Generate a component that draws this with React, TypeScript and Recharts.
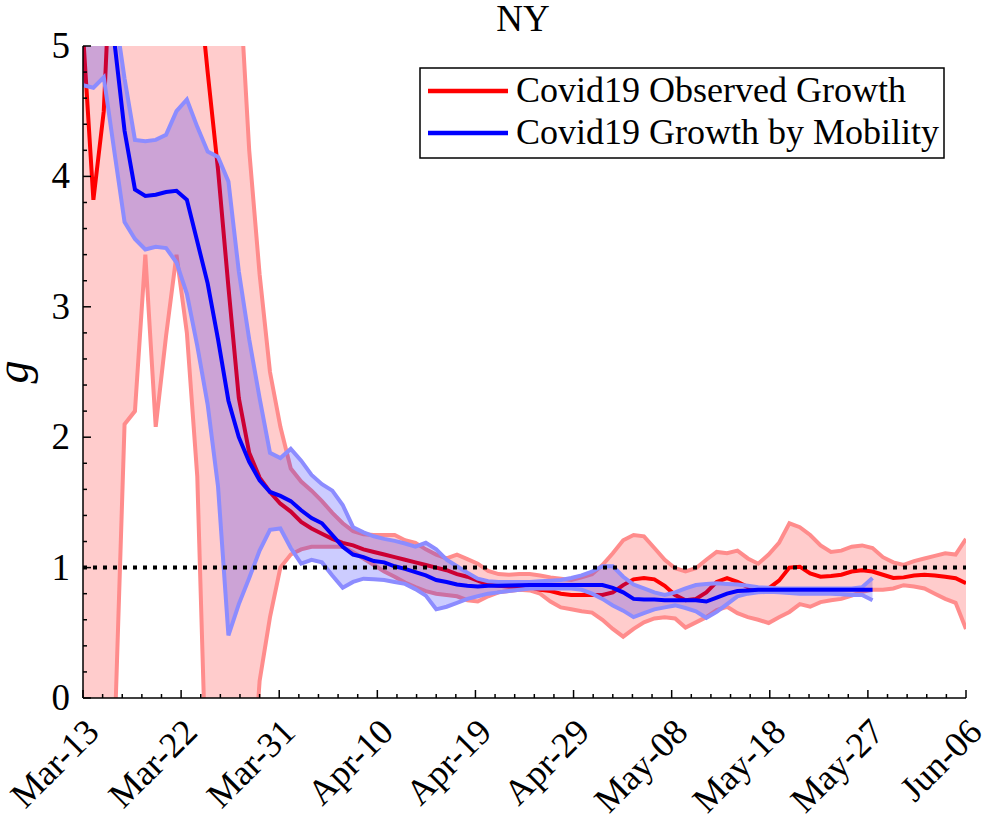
import React from "react";
import {
  ComposedChart,
  Area,
  Line,
  XAxis,
  YAxis,
  ReferenceLine,
} from "recharts";

// ---- tick labels ----
const xTickLabels = [
  "Mar-13", "Mar-22", "Mar-31", "Apr-10", "Apr-19",
  "Apr-29", "May-08", "May-18", "May-27", "Jun-06",
];
const yTickLabels = ["0", "1", "2", "3", "4", "5"];

// ---- observed growth (daily, Mar-13 .. Jun-06) ----
const obsMid = [
  5.1, 3.82, 4.5, 6.3, 7.0, 7.4, 7.6, 7.5, 7.2, 6.8,
  6.3, 5.6, 4.8, 4.05, 3.15, 2.3, 1.88, 1.69, 1.58, 1.49,
  1.43, 1.35, 1.3, 1.26, 1.22, 1.19, 1.17, 1.14, 1.12, 1.1,
  1.08, 1.06, 1.04, 1.02, 1.0, 0.98, 0.95, 0.93, 0.9, 0.87,
  0.86, 0.855, 0.855, 0.85, 0.83, 0.82, 0.8, 0.79, 0.79, 0.79,
  0.79, 0.81, 0.866, 0.91, 0.92, 0.91, 0.86, 0.79, 0.75, 0.76,
  0.81, 0.89, 0.92, 0.89, 0.85, 0.83, 0.84, 0.9, 1.0, 1.007,
  0.955, 0.93, 0.935, 0.945, 0.97, 0.98, 0.97, 0.945, 0.92, 0.925,
  0.94, 0.945, 0.94, 0.93, 0.918, 0.88,
];
const obsHigh = [
  8, 8, 8, 8, 8, 8, 8, 8, 8, 8,
  8, 8, 7.5, 7, 6.4, 5.6, 4.2, 3.25, 2.5, 2.08,
  1.76, 1.66, 1.59, 1.51, 1.42, 1.34, 1.28, 1.255, 1.25, 1.25,
  1.25, 1.21, 1.19, 1.14, 1.1, 1.07, 1.1, 1.065, 1.03, 0.975,
  0.95, 0.945, 0.95, 0.95, 0.94, 0.925, 0.915, 0.905, 0.925, 0.95,
  1.02, 1.11, 1.21, 1.25, 1.24, 1.15, 1.06, 0.995, 0.97, 0.995,
  1.06, 1.12, 1.11, 1.13, 1.07, 1.03, 1.1, 1.19, 1.34, 1.31,
  1.25, 1.17, 1.12, 1.13, 1.16, 1.17, 1.15, 1.08, 1.04, 1.02,
  1.05, 1.07, 1.09, 1.11, 1.1, 1.22,
];
const obsLow = [
  -0.5, -0.6, -0.5, -0.4, 2.1, 2.2, 3.4, 2.08, 2.78, 3.4,
  2.8, 1.7, -1.0, -1.2, -1.2, -1.1, -1.0, 0.13, 0.62, 1.0,
  1.1, 1.14, 1.16, 1.16, 1.16, 1.16, 1.12, 1.07, 1.02, 0.97,
  0.93, 0.885, 0.85, 0.82, 0.8, 0.79, 0.78, 0.75, 0.74, 0.78,
  0.81, 0.82, 0.83, 0.825, 0.8, 0.74, 0.695, 0.68, 0.665, 0.655,
  0.6, 0.53, 0.47, 0.53, 0.58, 0.61, 0.62, 0.61, 0.54, 0.58,
  0.62, 0.675, 0.7, 0.65, 0.62, 0.6, 0.575, 0.62, 0.66, 0.72,
  0.7, 0.735, 0.75, 0.76, 0.785, 0.815, 0.83, 0.83, 0.84, 0.865,
  0.855, 0.84, 0.8, 0.76, 0.73, 0.53,
];

// ---- growth by mobility (daily, Mar-13 .. May-28) ----
const mobMid = [
  6.0, 5.8, 5.5, 5.05, 4.35, 3.9, 3.85, 3.86, 3.88, 3.89,
  3.82, 3.5, 3.18, 2.75, 2.28, 2.0, 1.81, 1.67, 1.58, 1.55,
  1.51, 1.44, 1.38, 1.34, 1.25, 1.16, 1.1, 1.08, 1.05, 1.04,
  1.01, 0.99, 0.965, 0.94, 0.905, 0.89, 0.87, 0.86, 0.855, 0.86,
  0.86, 0.862, 0.865, 0.866, 0.866, 0.866, 0.866, 0.866, 0.866, 0.866,
  0.866, 0.845, 0.81, 0.76, 0.755, 0.755, 0.75, 0.75, 0.75, 0.75,
  0.74, 0.77, 0.8, 0.82, 0.825, 0.83, 0.83, 0.83, 0.83, 0.83,
  0.83, 0.83, 0.83, 0.83, 0.83, 0.83, 0.83,
];
const mobHigh = [
  5.5, 5.6, 5.6, 5.3, 4.75, 4.28, 4.27, 4.28, 4.32, 4.5,
  4.59, 4.38, 4.19, 4.15, 3.96, 3.27, 2.75, 2.3, 1.88, 1.84,
  1.91, 1.82, 1.71, 1.64, 1.59, 1.48, 1.31, 1.27, 1.24, 1.22,
  1.205, 1.185, 1.16, 1.19, 1.14, 1.06, 1.01, 0.96, 0.915, 0.895,
  0.89, 0.89, 0.89, 0.89, 0.895, 0.9, 0.905, 0.92, 0.94, 0.97,
  1.01, 1.01, 0.93, 0.87, 0.84, 0.81, 0.79, 0.81, 0.84, 0.866,
  0.875, 0.88, 0.875, 0.87, 0.86, 0.85, 0.845, 0.84, 0.84, 0.84,
  0.84, 0.84, 0.84, 0.84, 0.84, 0.85, 0.92,
];
const mobLow = [
  4.7, 4.68, 4.76, 4.2, 3.65, 3.52, 3.44, 3.46, 3.45, 3.34,
  3.1, 2.7, 2.25, 1.62, 0.48, 0.72, 0.92, 1.13, 1.29, 1.3,
  1.15, 1.03, 1.06, 1.04, 0.94, 0.845, 0.89, 0.915, 0.91, 0.905,
  0.89, 0.875, 0.835, 0.785, 0.68, 0.7, 0.73, 0.76, 0.78, 0.8,
  0.81, 0.82, 0.83, 0.84, 0.84, 0.84, 0.84, 0.84, 0.83, 0.8,
  0.76, 0.71, 0.67, 0.62, 0.65, 0.68, 0.695, 0.71, 0.69, 0.665,
  0.615, 0.66, 0.72, 0.78, 0.8, 0.81, 0.815, 0.81, 0.805, 0.8,
  0.8, 0.8, 0.8, 0.795, 0.79, 0.79, 0.75,
];

const LAST_DAY = obsMid.length - 1; // 85
const FONT = '"Liberation Serif", "DejaVu Serif", serif';

const data = obsMid.map((v, i) => {
  const hasMob = i < mobMid.length;
  return {
    day: i,
    obs: v,
    obsLo: obsLow[i],
    obsHi: obsHigh[i],
    obsBand: [obsLow[i], obsHigh[i]],
    mob: hasMob ? mobMid[i] : null,
    mobLo: hasMob ? mobLow[i] : null,
    mobHi: hasMob ? mobHigh[i] : null,
    mobBand: hasMob ? [mobLow[i], mobHigh[i]] : null,
  };
});

// 9 intervals between labelled ticks, 5 minor steps each
const xTicks = Array.from({ length: 46 }, (_, i) => (i * LAST_DAY) / 45);
const yTicks = Array.from({ length: 26 }, (_, i) => i / 5);

const XTick = (props: any) => {
  const { x, y, index } = props;
  const major = index % 5 === 0;
  const ax = x + 18;
  const ay = y + 36;
  return (
    <g>
      <line x1={x} y1={y} x2={x} y2={y - (major ? 8 : 4)} stroke="#000" strokeWidth={1.5} />
      {major && (
        <text
          x={ax}
          y={ay}
          textAnchor="end"
          transform={`rotate(-45 ${ax} ${ay})`}
          fontSize={36}
          fontFamily={FONT}
          fill="#000"
        >
          {xTickLabels[index / 5]}
        </text>
      )}
    </g>
  );
};

const YTick = (props: any) => {
  const { x, y, index } = props;
  const major = index % 5 === 0;
  return (
    <g>
      <line x1={x} y1={y} x2={x + (major ? 8 : 4)} y2={y} stroke="#000" strokeWidth={1.5} />
      {major && (
        <text x={x - 13} y={y + 12} textAnchor="end" fontSize={37} fontFamily={FONT} fill="#000">
          {yTickLabels[index / 5]}
        </text>
      )}
    </g>
  );
};

export default function App() {
  return (
    <div style={{ position: "absolute", left: 0, top: 0, width: 986, height: 820, background: "#fff" }}>
      <ComposedChart
        width={986}
        height={820}
        data={data}
        margin={{ top: 46, right: 20, bottom: 22, left: 43 }}
      >
        <XAxis
          dataKey="day"
          type="number"
          domain={[0, LAST_DAY]}
          ticks={xTicks}
          interval={0}
          tickSize={0}
          tickMargin={0}
          tickLine={false}
          tick={<XTick />}
          height={100}
          axisLine={{ stroke: "#000", strokeWidth: 1.5 }}
          allowDataOverflow
        />
        <YAxis
          type="number"
          domain={[0, 5]}
          ticks={yTicks}
          interval={0}
          tickSize={0}
          tickMargin={0}
          tickLine={false}
          tick={<YTick />}
          width={40}
          axisLine={{ stroke: "#000", strokeWidth: 1.5 }}
          allowDataOverflow
        />
        <Area
          dataKey="obsBand"
          type="linear"
          fill="#ff0000"
          fillOpacity={0.2}
          stroke="none"
          isAnimationActive={false}
          dot={false}
          activeDot={false}
          zIndex={1}
        />
        <Line dataKey="obsHi" type="linear" stroke="#ff8c8c" strokeWidth={4} dot={false} activeDot={false} isAnimationActive={false} zIndex={2} />
        <Line dataKey="obsLo" type="linear" stroke="#ff8c8c" strokeWidth={4} dot={false} activeDot={false} isAnimationActive={false} zIndex={3} />
        <Line dataKey="obs" type="linear" stroke="#ff0000" strokeWidth={4} dot={false} activeDot={false} isAnimationActive={false} zIndex={4} />
        <Area
          dataKey="mobBand"
          type="linear"
          fill="#0000ff"
          fillOpacity={0.2}
          stroke="none"
          isAnimationActive={false}
          dot={false}
          activeDot={false}
          zIndex={5}
        />
        <Line dataKey="mobHi" type="linear" stroke="#8c8cff" strokeWidth={4} dot={false} activeDot={false} isAnimationActive={false} zIndex={6} />
        <Line dataKey="mobLo" type="linear" stroke="#8c8cff" strokeWidth={4} dot={false} activeDot={false} isAnimationActive={false} zIndex={7} />
        <Line dataKey="mob" type="linear" stroke="#0000ff" strokeWidth={4} dot={false} activeDot={false} isAnimationActive={false} zIndex={8} />
        <ReferenceLine y={1} stroke="#000" strokeWidth={4} strokeDasharray="4 6" zIndex={9} />
      </ComposedChart>
      <svg
        width={986}
        height={820}
        style={{ position: "absolute", left: 0, top: 0, pointerEvents: "none" }}
      >
        <text x={523} y={31} textAnchor="middle" fontSize={37} fontFamily={FONT} fill="#000">
          NY
        </text>
        <text
          x={0}
          y={0}
          transform="translate(28 372) rotate(-90)"
          textAnchor="middle"
          fontSize={46}
          fontStyle="italic"
          fontFamily={FONT}
          fill="#000"
        >
          g
        </text>
        <rect x={420} y={68} width={524} height={90} fill="#fff" stroke="#000" strokeWidth={1.5} />
        <line x1={428} y1={91} x2={508} y2={91} stroke="#ff0000" strokeWidth={4.5} />
        <line x1={428} y1={133} x2={508} y2={133} stroke="#0000ff" strokeWidth={4.5} />
        <text x={516} y={102} fontSize={36} fontFamily={FONT} fill="#000">
          Covid19 Observed Growth
        </text>
        <text x={516} y={144} fontSize={36} fontFamily={FONT} fill="#000">
          Covid19 Growth by Mobility
        </text>
      </svg>
    </div>
  );
}
